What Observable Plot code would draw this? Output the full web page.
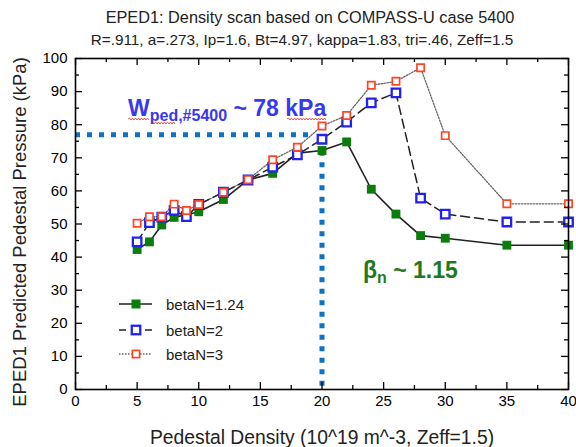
<!DOCTYPE html>
<html>
<head>
<meta charset="utf-8">
<script src="https://cdn.jsdelivr.net/npm/d3@7"></script>
<script src="https://cdn.jsdelivr.net/npm/@observablehq/plot@0.6"></script>
<style>
  html, body { margin: 0; padding: 0; background: white; }
  svg { display: block; }
</style>
</head>
<body>
<script>
// ---- data ----
const density = [5, 6, 7, 8, 9, 10, 12, 14, 16, 18, 20, 22, 24, 26, 28, 30, 35, 40];
const pBeta124 = [42.3, 44.6, 49.7, 52.0, 52.8, 53.7, 57.4, 63.3, 65.3, 71.4, 72.2, 74.8, 60.5, 53.0, 46.5, 45.7, 43.6, 43.6];
const pBeta2   = [44.6, 50.4, 52.1, 54.1, 52.2, 55.9, 59.6, 63.3, 67.2, 70.9, 75.6, 80.8, 86.6, 89.6, 57.8, 53.0, 50.6, 50.6];
const pBeta3   = [50.2, 52.2, 52.2, 56.0, 54.1, 55.9, 59.6, 63.4, 69.4, 73.2, 79.6, 82.8, 91.9, 93.1, 97.2, 76.7, 56.1, 56.1];
const seriesNames = ["betaN=1.24", "betaN=2", "betaN=3"];
const refDensity = 20;
const refPressure = 77;
const refLineEnd = 19;
const refLineTop = 72;
const xMajor = [0, 5, 10, 15, 20, 25, 30, 35, 40];
const xMinor = [2.5, 7.5, 12.5, 17.5, 22.5, 27.5, 32.5, 37.5];
const yMajor = [0, 10, 20, 30, 40, 50, 60, 70, 80, 90, 100];
const yMinor = [5, 15, 25, 35, 45, 55, 65, 75, 85, 95];
const titleLines = ["EPED1: Density scan based on COMPASS-U case 5400",
                    "R=.911, a=.273, Ip=1.6, Bt=4.97, kappa=1.83, tri=.46, Zeff=1.5"];
const xLabel = "Pedestal Density (10^19 m^-3, Zeff=1.5)";
const yLabel = "EPED1 Predicted Pedestal Pressure (kPa)";
const annoW = ["W", "ped,#5400", " ~ 78 kPa"];
const annoBeta = ["β", "n", " ~ 1.15"];

// ---- build ----
const W = 576, H = 447, mL = 75, mR = 8, mT = 58, mB = 58;
const fw = W - mL - mR, fh = H - mT - mB;
const font = "'Liberation Sans', Arial, Helvetica, sans-serif";
const green = "#0b7d0b", blue = "#2222ee", red = "#ff4422", refBlue = "#0b72c5";

const rows = (ys) => density.map((x, i) => ({x, y: ys[i]}));
const s1 = rows(pBeta124), s2 = rows(pBeta2), s3 = rows(pBeta3);

const chart = Plot.plot({
  width: W, height: H,
  marginLeft: mL, marginRight: mR, marginTop: mT, marginBottom: mB,
  x: {domain: [0, 40]},
  y: {domain: [0, 100]},
  style: {fontFamily: font, background: "white", color: "black"},
  marks: [
    // reference lines
    Plot.ruleY([refPressure], {y: d => d, x1: 0, x2: refLineEnd, stroke: refBlue, strokeWidth: 5, strokeDasharray: "5,7"}),
    Plot.ruleX([refDensity], {x: d => d, y1: refLineTop, y2: 0, stroke: refBlue, strokeWidth: 5, strokeDasharray: "5,6.5"}),
    // lines
    Plot.line(s3, {x: "x", y: "y", stroke: "#666", strokeWidth: 1.3, strokeDasharray: "1.5,1.5"}),
    Plot.line(s2, {x: "x", y: "y", stroke: "#222", strokeWidth: 1.5, strokeDasharray: "9,5"}),
    Plot.line(s1, {x: "x", y: "y", stroke: "#222", strokeWidth: 1.6}),
    // markers
    Plot.dot(s1, {x: "x", y: "y", symbol: "square", r: 5, fill: green, stroke: "none"}),
    Plot.dot(s2, {x: "x", y: "y", symbol: "square", r: 4.8, fill: "white", stroke: blue, strokeWidth: 2.3}),
    Plot.dot(s3, {x: "x", y: "y", symbol: "square", r: 4.1, fill: "white", stroke: red, strokeWidth: 1.7}),
    // inward ticks
    Plot.tickX(xMajor, {x: d => d, insetTop: fh - 7, stroke: "black", strokeWidth: 1.3}),
    Plot.tickX(xMajor, {x: d => d, insetBottom: fh - 7, stroke: "black", strokeWidth: 1.3}),
    Plot.tickX(xMinor, {x: d => d, insetTop: fh - 4, stroke: "black", strokeWidth: 1.3}),
    Plot.tickX(xMinor, {x: d => d, insetBottom: fh - 4, stroke: "black", strokeWidth: 1.3}),
    Plot.tickY(yMajor, {y: d => d, insetRight: fw - 7, stroke: "black", strokeWidth: 1.3}),
    Plot.tickY(yMajor, {y: d => d, insetLeft: fw - 7, stroke: "black", strokeWidth: 1.3}),
    Plot.tickY(yMinor, {y: d => d, insetRight: fw - 4, stroke: "black", strokeWidth: 1.3}),
    Plot.tickY(yMinor, {y: d => d, insetLeft: fw - 4, stroke: "black", strokeWidth: 1.3}),
    Plot.frame({stroke: "black", strokeWidth: 1.6}),
    // axes labels
    Plot.axisX(xMajor, {tickSize: 0, tickPadding: 6, fontSize: 15, label: null}),
    Plot.axisY(yMajor, {tickSize: 0, tickPadding: 8, fontSize: 15, label: null}),
    Plot.text([xLabel], {frameAnchor: "bottom", textAnchor: "middle", lineAnchor: "middle", dy: 48, fontSize: 19.3, fill: "#222"}),
    Plot.text([yLabel], {frameAnchor: "left", textAnchor: "middle", lineAnchor: "middle", dx: -55, dy: 8, rotate: -90, fontSize: 18.5, fill: "#222"}),
    Plot.text([titleLines[0]], {frameAnchor: "top", textAnchor: "middle", lineAnchor: "middle", dx: -12, dy: -41, fontSize: 16.3, fill: "#222"}),
    Plot.text([titleLines[1]], {frameAnchor: "top", textAnchor: "middle", lineAnchor: "middle", dx: -20, dy: -18, fontSize: 15.3, fill: "#222"})
  ]
});

document.body.appendChild(chart);

// ---- annotations & legend ----
const svg = d3.select(chart);
const g = svg.append("g").attr("font-family", font).attr("text-anchor", "start");

function squiggle(x0, x1, y) {
  let d = `M${x0},${y}`;
  let up = true;
  for (let x = x0 + 1.5; x <= x1; x += 1.5) { d += `L${x},${y + (up ? -1 : 1)}`; up = !up; }
  g.append("path").attr("d", d).attr("fill", "none").attr("stroke", "#e03030").attr("stroke-width", 0.8);
}
squiggle(128, 150, 119);
squiggle(151, 176, 123);
squiggle(287, 326, 119);

function richText(parts, x, y, color, size, subSize, sub) {
  const t = g.append("text").attr("x", x).attr("y", y).attr("fill", color)
    .attr("text-anchor", "start").attr("font-weight", "bold").attr("font-size", size);
  t.append("tspan").text(parts[0]);
  t.append("tspan").attr("font-size", subSize).attr("dy", sub).text(parts[1]);
  t.append("tspan").attr("dy", -sub).text(parts[2]);
  return t;
}
richText(annoW, 128, 116, "#3838ee", 23, 16, 5);
richText(annoBeta, 363, 278, "#1f7a1f", 23, 16, 5);

// legend
const leg = g.append("g");
const legRows = [
  {name: seriesNames[0], y: 304, dash: null, stroke: "#222", sw: 1.6, mk: {fill: green, stroke: "none", sw: 0, s: 9}},
  {name: seriesNames[1], y: 330, dash: "7,6", stroke: "#222", sw: 1.5, mk: {fill: "white", stroke: blue, sw: 2.3, s: 8.5}},
  {name: seriesNames[2], y: 354, dash: "1.5,1.5", stroke: "#666", sw: 1.3, mk: {fill: "white", stroke: red, sw: 1.7, s: 7.2}}
];
legRows.forEach(r => {
  leg.append("line").attr("x1", 119).attr("x2", 152).attr("y1", r.y).attr("y2", r.y)
    .attr("stroke", r.stroke).attr("stroke-width", r.sw).attr("stroke-dasharray", r.dash);
  leg.append("rect").attr("x", 136 - r.mk.s / 2).attr("y", r.y - r.mk.s / 2)
    .attr("width", r.mk.s).attr("height", r.mk.s)
    .attr("fill", r.mk.fill).attr("stroke", r.mk.stroke).attr("stroke-width", r.mk.sw);
  leg.append("text").attr("x", 166).attr("y", r.y + 5.5).attr("font-size", 15)
    .attr("text-anchor", "start").attr("fill", "#222").text(r.name);
});
</script>
</body>
</html>
